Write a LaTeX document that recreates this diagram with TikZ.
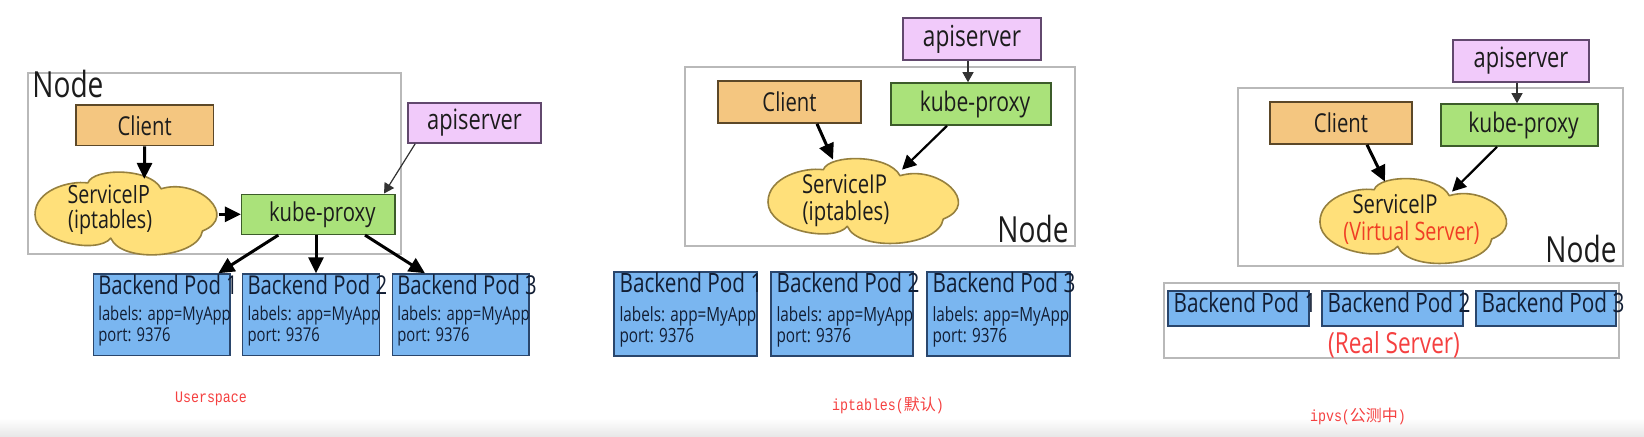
\documentclass[tikz,border=0pt]{standalone}
\usepackage{fontspec}
\setmainfont{Open Sans}[FakeStretch=0.78]
\newfontfamily\capmono{Liberation Mono}[FakeStretch=0.83]
\newfontfamily\cjk{Noto Sans CJK SC}
\usetikzlibrary{arrows.meta}
\pgfdeclarelayer{bg}
\pgfsetlayers{bg,main}
\newcommand\fsz[1]{\fontsize{#1}{#1}\selectfont}
% cloud outline, in pixels around its centre (y downwards)
\newcommand\cloudoutline{(-40.7,-29.3) .. controls (-35,-45) and (25,-45) .. (36,-23.3)
  .. controls (75,-35) and (118,5) .. (79.3,20)
  .. controls (75,48) and (-5,54) .. (-16.7,27.3)
  .. controls (-30,44) and (-96,32) .. (-96,3)
  .. controls (-96,-22) and (-60,-32) .. (-40.7,-29.3) -- cycle}
\definecolor{txt}{RGB}{28,28,28}
\definecolor{podtxt}{RGB}{18,30,52}
\definecolor{clientfill}{RGB}{244,198,128}
\definecolor{clientdraw}{RGB}{92,72,40}
\definecolor{kpfill}{RGB}{170,226,122}
\definecolor{kpdraw}{RGB}{60,92,42}
\definecolor{apifill}{RGB}{241,202,250}
\definecolor{apidraw}{RGB}{98,72,110}
\definecolor{podfill}{RGB}{122,182,240}
\definecolor{poddraw}{RGB}{42,70,108}
\definecolor{cloudfill}{RGB}{255,224,122}
\definecolor{clouddraw}{RGB}{150,128,62}
\definecolor{framegray}{RGB}{185,185,185}
\definecolor{capred}{RGB}{245,64,64}
\definecolor{vsred}{RGB}{240,62,36}
\tikzset{
  box/.style={draw, line width=0.8pt, inner sep=0pt, text=txt},
  clientbox/.style={box, fill=clientfill, draw=clientdraw},
  kpbox/.style={box, fill=kpfill, draw=kpdraw},
  apibox/.style={box, fill=apifill, draw=apidraw},
  podbox/.style={box, fill=podfill, draw=poddraw},
  cloudarea/.style={inner sep=0pt},
  cloudline/.style={draw=clouddraw, fill=cloudfill, line width=0.8pt, line join=round},
  frame/.style={draw=framegray, line width=1pt, inner sep=0pt},
  lbl/.style={inner sep=0pt, text=txt},
  podlbl/.style={inner sep=0pt, text=podtxt, anchor=base west},
  caption/.style={inner sep=0pt, text=capred},
  arr/.style={-{Triangle[length=8pt,width=7.5pt]}, line width=1.5pt},
  midarr/.style={-{Triangle[length=7pt,width=7pt]}, line width=1.1pt},
  thinarr/.style={-{Triangle[length=5pt,width=5.5pt]}, line width=0.6pt, draw=black!80, fill=black!80}
}
\begin{document}
\begin{tikzpicture}[x=0.5pt,y=-0.5pt]
\useasboundingbox (0,0) rectangle (1644,436);
\fill[white] (0,0) rectangle (1644,436);
\shade[top color=white, bottom color=black!9] (0,418) rectangle (1644,436);

% ================= Panel 1: Userspace =================
\node[frame, minimum width=186.65pt, minimum height=90.8pt] (frame1) at (214.35,163.5) {};
\node[lbl, anchor=base west, font=\fsz{18}] (nodelbl1) at (32,97.3) {Node};
\node[clientbox, minimum width=68.65pt, minimum height=20.35pt, font=\fsz{13}] (cl1) at (144.7,125.3) {Client};
\node[apibox, minimum width=66.25pt, minimum height=20pt, font=\fsz{14}] (api1) at (474.5,123) {apiserver};
\node[kpbox, minimum width=76.65pt, minimum height=20pt, font=\fsz{13}] (kp1) at (318.3,214.3) {\hspace*{4pt}kube-proxy};
\node[cloudarea, minimum width=91.5pt, minimum height=41.5pt] (cloud1) at (126.7,212.5) {};
\begin{scope}[shift={(126.7,211.5)}, xscale=0.955, yscale=0.975]
  \draw[cloudline] \cloudoutline;
\end{scope}
\node[lbl, anchor=base, font=\fsz{12.6}] (sip1) at (108.8,203.3) {ServiceIP};
\node[lbl, anchor=base, font=\fsz{12.6}] (ipt1) at (110.2,228.5) {(iptables)};
\node[podbox, minimum width=68.35pt, minimum height=40.65pt] (p11) at (161.7,314.7) {};
\node[podbox, minimum width=68.35pt, minimum height=40.65pt] (p12) at (311,314.7) {};
\node[podbox, minimum width=68.35pt, minimum height=40.65pt] (p13) at (460.7,314.7) {};
\foreach \p/\n in {p11/1,p12/2,p13/3}{
  \node[podlbl, font=\fsz{13}] (\p t) at ([xshift=2.65pt,yshift=-10.5pt]\p.north west) {Backend Pod \n};
  \node[podlbl, font=\fsz{9.5}] (\p a) at ([xshift=2.65pt,yshift=-23.85pt]\p.north west) {labels: app=MyApp};
  \node[podlbl, font=\fsz{9.5}] (\p b) at ([xshift=2.65pt,yshift=-34.35pt]\p.north west) {port: 9376};
}
\draw[arr] (cl1.south) -- ([xshift=8.8pt,yshift=-4.15pt]cloud1.north);
\draw[arr] (cloud1.east |- kp1.west) -- (kp1.west);
\draw[thinarr] ([xshift=3.85pt]api1.south west) -- ([xshift=-5.85pt]kp1.north east);
\draw[arr] ([xshift=-20pt]kp1.south) -- ([xshift=28.3pt]p11.north);
\draw[arr] ([xshift=-1.15pt]kp1.south) -- ([xshift=2.5pt]p12.north);
\draw[arr] ([xshift=23.35pt]kp1.south) -- ([xshift=-17.85pt]p13.north);
\node[caption, font=\capmono\fsz{8}] (cap1) at (211,399) {Userspace};

% ================= Panel 2: iptables =================
\node[frame, minimum width=195pt, minimum height=89.5pt] (frame2) at (880,156.5) {};
\node[lbl, anchor=base west, font=\fsz{18}] (nodelbl2) at (997,242) {Node};
\node[apibox, minimum width=69pt, minimum height=21pt, font=\fsz{14.5}] (api2) at (972,39) {apiserver};
\node[clientbox, minimum width=71.5pt, minimum height=21pt, font=\fsz{13}] (cl2) at (789.5,102) {Client};
\node[kpbox, minimum width=80pt, minimum height=21pt, font=\fsz{13.5}] (kp2) at (971,104) {\hspace*{4pt}kube-proxy};
\node[podbox, minimum width=71.5pt, minimum height=42pt] (p21) at (685.5,314) {};
\node[podbox, minimum width=71pt, minimum height=42pt] (p22) at (842,314) {};
\node[podbox, minimum width=71.5pt, minimum height=42pt] (p23) at (998.5,314) {};
\foreach \p/\n in {p21/1,p22/2,p23/3}{
  \node[podlbl, font=\fsz{13.3}] (\p t) at ([xshift=3pt,yshift=-10.5pt]\p.north west) {Backend Pod \n};
  \node[podlbl, font=\fsz{9.8}] (\p a) at ([xshift=3pt,yshift=-25pt]\p.north west) {labels: app=MyApp};
  \node[podlbl, font=\fsz{9.8}] (\p b) at ([xshift=3pt,yshift=-35.5pt]\p.north west) {port: 9376};
}
\node[cloudarea, minimum width=96pt, minimum height=42pt] (cloud2) at (864,200) {};
\begin{scope}[shift={(864,199)}]
  \draw[cloudline] \cloudoutline;
\end{scope}
\node[lbl, anchor=base, font=\fsz{13}] (sip2) at (844.5,193) {ServiceIP};
\node[lbl, anchor=base, font=\fsz{13}] (ipt2) at (846,220) {(iptables)};
\begin{pgfonlayer}{bg}
\draw[arr] ([xshift=-31pt,yshift=-16.5pt]cloud2.center) -- ([xshift=31.25pt]p21.north);
\draw[arr] ([xshift=-8.5pt,yshift=-14pt]cloud2.center) -- ([xshift=2.5pt]p22.north);
\draw[arr] ([xshift=25.5pt,yshift=-21pt]cloud2.center) -- ([xshift=-20.75pt]p23.north);
\end{pgfonlayer}
\draw[arr] ([xshift=13.75pt]cl2.south) -- ([xshift=-15.5pt,yshift=-1pt]cloud2.north);
\draw[midarr] ([xshift=-12pt]kp2.south) -- ([xshift=19pt,yshift=-6pt]cloud2.north);
\draw[thinarr] ([xshift=-2pt]api2.south) -- ([xshift=-1.5pt]kp2.north);
\node[caption, font=\fsz{8}] (cap2) at (888,405) {{\capmono iptables(}{\cjk 默认}{\capmono )}};

% ================= Panel 3: ipvs =================
\node[frame, minimum width=192.5pt, minimum height=89pt] (frame3) at (1430.5,177) {};
\node[lbl, anchor=base west, font=\fsz{18}] (nodelbl3) at (1545,262) {Node};
\node[frame, minimum width=227.5pt, minimum height=37.5pt] (rsframe) at (1391.5,320.5) {};
\node[apibox, minimum width=68pt, minimum height=21pt, font=\fsz{14}] (api3) at (1521,61) {apiserver};
\node[clientbox, minimum width=71pt, minimum height=21pt, font=\fsz{13}] (cl3) at (1341,123) {Client};
\node[kpbox, minimum width=78.5pt, minimum height=21pt, font=\fsz{13.5}] (kp3) at (1519.5,125) {\hspace*{4pt}kube-proxy};
\node[podbox, minimum width=70.5pt, minimum height=17.5pt] (p31) at (1238.5,308.5) {};
\node[podbox, minimum width=70.5pt, minimum height=17.5pt] (p32) at (1392.5,308.5) {};
\node[podbox, minimum width=70pt, minimum height=17.5pt] (p33) at (1546,308.5) {};
\foreach \p/\n in {p31/1,p32/2,p33/3}{
  \node[podlbl, font=\fsz{13.3}] (\p t) at ([xshift=3pt,yshift=-11pt]\p.north west) {Backend Pod \n};
}
\node[lbl, text=capred, font=\fsz{14.5}] (rslbl) at (1394,345) {(Real Server)};
\node[cloudarea, minimum width=94pt, minimum height=42pt] (cloud3) at (1414,220) {};
\begin{scope}[shift={(1414,219)}, xscale=0.98]
  \draw[cloudline] \cloudoutline;
\end{scope}
\node[lbl, anchor=base, font=\fsz{13}] (sip3) at (1395,213) {ServiceIP};
\node[lbl, anchor=base, text=vsred, font=\fsz{12.7}] (vs3) at (1411.5,240) {(Virtual Server)};
\begin{pgfonlayer}{bg}
\draw[arr] ([xshift=-30.5pt,yshift=-16.5pt]cloud3.center) -- ([xshift=30.75pt]p31.north);
\draw[arr] ([xshift=-8.5pt,yshift=-13.5pt]cloud3.center) -- ([xshift=2.25pt]p32.north);
\draw[arr] ([xshift=25.5pt,yshift=-21pt]cloud3.center) -- ([xshift=-19pt]p33.north);
\end{pgfonlayer}
\draw[arr] ([xshift=13pt]cl3.south) -- ([xshift=-14.5pt,yshift=-2pt]cloud3.north);
\draw[midarr] ([xshift=-11.25pt]kp3.south) -- ([xshift=19pt,yshift=-7pt]cloud3.north);
\draw[thinarr] ([xshift=-2pt]api3.south) -- ([xshift=-1.25pt]kp3.north);
\node[caption, font=\fsz{8}] (cap3) at (1358,416) {{\capmono ipvs(}{\cjk 公测中}{\capmono )}};
\end{tikzpicture}
\end{document}
